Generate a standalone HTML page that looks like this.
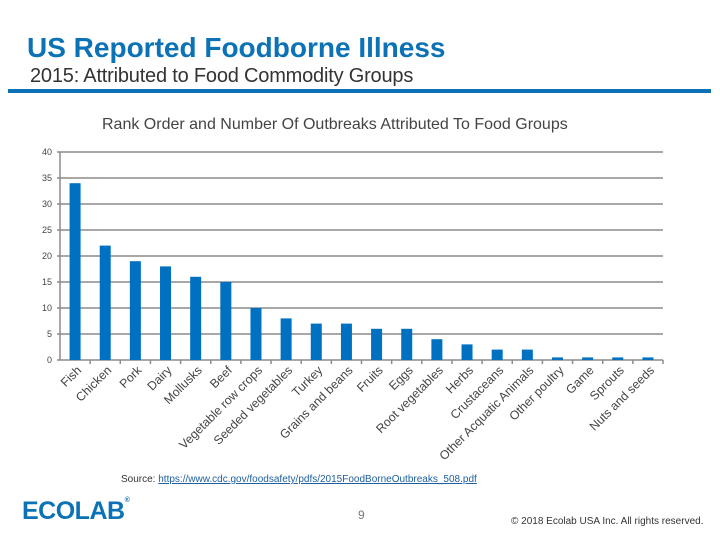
<!DOCTYPE html>
<html><head><meta charset="utf-8"><style>
body{margin:0;width:720px;height:540px;background:#fff;overflow:hidden;font-family:"Liberation Sans",sans-serif;position:relative}
.a{position:absolute;white-space:nowrap}
</style></head><body>
<div class="a" style="left:27px;top:32px;font-size:28px;font-weight:bold;color:#0b72b5;letter-spacing:0px">US Reported Foodborne Illness</div>
<div class="a" style="left:30px;top:65px;font-size:20px;color:#333;letter-spacing:-0.2px">2015: Attributed to Food Commodity Groups</div>
<div class="a" style="left:8px;top:89px;width:703px;height:4px;background:#0b72b5"></div>
<div class="a" style="left:102px;top:116px;font-size:16px;color:#444;letter-spacing:0px">Rank Order and Number Of Outbreaks Attributed To Food Groups</div>
<svg class="a" style="left:0;top:0" width="720" height="540" id="chart"></svg>
<div class="a" style="left:121px;top:474px;font-size:10px;color:#333">Source: <span style="color:#1f5fa0;text-decoration:underline">https://www.cdc.gov/foodsafety/pdfs/2015FoodBorneOutbreaks_508.pdf</span></div>
<div class="a" style="left:22px;top:497px;font-size:25px;font-weight:bold;color:#0b72b5;letter-spacing:-0.5px">ECOLAB<span style="font-size:7px;vertical-align:top">®</span></div>
<div class="a" style="left:358px;top:508px;font-size:12px;color:#777">9</div>
<div class="a" style="left:511px;top:516px;font-size:10px;color:#333">© 2018 Ecolab USA Inc. All rights reserved.</div>
<script>
const categories=["Fish","Chicken","Pork","Dairy","Mollusks","Beef","Vegetable row crops","Seeded vegetables","Turkey","Grains and beans","Fruits","Eggs","Root vegetables","Herbs","Crustaceans","Other Acquatic Animals","Other poultry","Game","Sprouts","Nuts and seeds"];
const values=[34,22,19,18,16,15,10,8,7,7,6,6,4,3,2,2,0.5,0.5,0.5,0.5];
const yTicks=[0,5,10,15,20,25,30,35,40];
const NS="http://www.w3.org/2000/svg";
const svg=document.getElementById('chart');
const x0=60,x1=663,yTop=152,yBot=360,yMax=40;
const band=(x1-x0)/categories.length;
const y=v=>yBot-(v/yMax)*(yBot-yTop);
const xc=i=>x0+band*(i+0.5);
function mk(t,a){const e=document.createElementNS(NS,t);for(const k in a)e.setAttribute(k,a[k]);svg.appendChild(e);return e;}
yTicks.forEach(t=>{
  const l=mk('line',{x1:x0-3,x2:x1,y1:y(t),y2:y(t),stroke:'#8c8c8c','stroke-width':1.5});
  
  
  const tx=mk('text',{x:x0-8,y:y(t)+3,'text-anchor':'end','font-size':9,fill:'#444','font-family':'Liberation Sans,sans-serif'});
  tx.textContent=t;
  
  
});
const ax=mk('line',{x1:x0,x2:x0,y1:yTop,y2:yBot,stroke:'#8c8c8c','stroke-width':1.5});


categories.forEach((c,i)=>{
  const r=mk('rect',{x:xc(i)-5.5,y:y(values[i]),width:11,height:yBot-y(values[i]),fill:'#0070c0'});
  
  
  const tk=mk('line',{x1:x0+band*(i+1),x2:x0+band*(i+1),y1:yBot,y2:yBot+4,stroke:'#8c8c8c','stroke-width':1.5});
  
  
  const lx=xc(i)+7,ly=yBot+11;
  const t=mk('text',{x:lx,y:ly,'text-anchor':'end','font-size':12.3,fill:'#444','font-family':'Liberation Sans,sans-serif',transform:`rotate(-45 ${lx} ${ly})`});
  t.textContent=c;
  
  
});
</script>
</body></html>
